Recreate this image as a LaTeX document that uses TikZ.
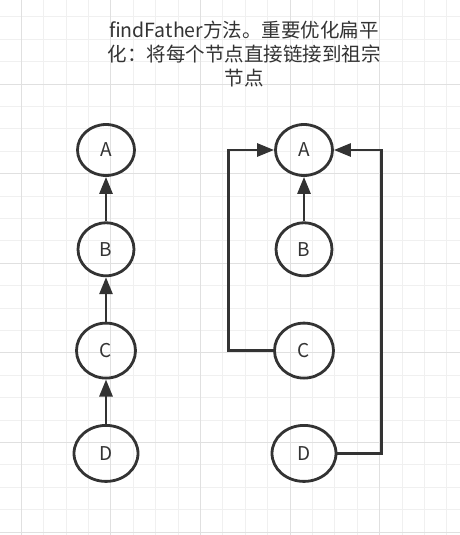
\documentclass[tikz,border=0pt]{standalone}
\usepackage{fontspec}
\setmainfont{Noto Sans CJK SC}
\usepackage{tikz}
\usetikzlibrary{arrows.meta,positioning,shapes.geometric}

\definecolor{ink}{HTML}{333333}
\definecolor{gridminor}{HTML}{F0F0F0}
\definecolor{gridmajor}{HTML}{E0E0E0}

\begin{document}
\begin{tikzpicture}[
  x=1pt, y=-1pt,
  vertex/.style={draw=ink, ellipse, line width=2.8pt, inner sep=0pt,
                 text=ink, font=\fontsize{19}{21}\selectfont},
  link/.style={draw=ink, line width=2.8pt,
               -{Triangle[length=17pt,width=13pt]}},
  title/.style={align=center, text=ink,
                font=\fontsize{19.5}{24}\selectfont},
]
  % page and grid
  \fill[white] (0,0) rectangle (460,535);
  \useasboundingbox (0,0) rectangle (460,535);
  \foreach \k in {0,...,19}
    \draw[gridminor, line width=1pt] (21.3+22.4*\k,0) -- (21.3+22.4*\k,535);
  \foreach \k in {-3,...,20}
    \draw[gridminor, line width=1pt] (0,84+22.4*\k) -- (460,84+22.4*\k);
  \foreach \k in {0,...,4}
    \draw[gridmajor, line width=1pt] (21.3+89.6*\k,0) -- (21.3+89.6*\k,535);
  \foreach \k in {0,...,5}
    \draw[gridmajor, line width=1pt] (0,84+89.6*\k) -- (460,84+89.6*\k);

  \node[title] (title) at (244,54)
    {findFather方法。重要优化扁平\\化：将每个节点直接链接到祖宗\\节点};

  % left: plain chain
  \node[vertex, minimum width=57pt, minimum height=51pt] (a1) at (106,150) {A};
  \node[vertex, minimum width=56pt, minimum height=53pt, below=44.5pt of a1] (b1) {B};
  \node[vertex, minimum width=59pt, minimum height=55pt, below=44.5pt of b1] (c1) {C};
  \node[vertex, minimum width=64pt, minimum height=56pt, below=44.5pt of c1] (d1) {D};

  \draw[link] (b1) -- (a1);
  \draw[link] (c1) -- (b1);
  \draw[link] (d1) -- (c1);

  % right: flattened
  \node[vertex, minimum width=57pt, minimum height=51pt] (a2) at (304,150) {A};
  \node[vertex, minimum width=56pt, minimum height=53pt, below=44.5pt of a2] (b2) {B};
  \node[vertex, minimum width=59pt, minimum height=55pt, below=44.5pt of b2] (c2) {C};
  \node[vertex, minimum width=64pt, minimum height=56pt, below=44.5pt of c2] (d2) {D};

  \draw[link] (b2) -- (a2);
  \draw[link] (c2.west) -- ++(-44.5pt,0) |- (a2.west);
  \draw[link] (d2.east) -- ++(44pt,0) |- (a2.east);
\end{tikzpicture}
\end{document}
